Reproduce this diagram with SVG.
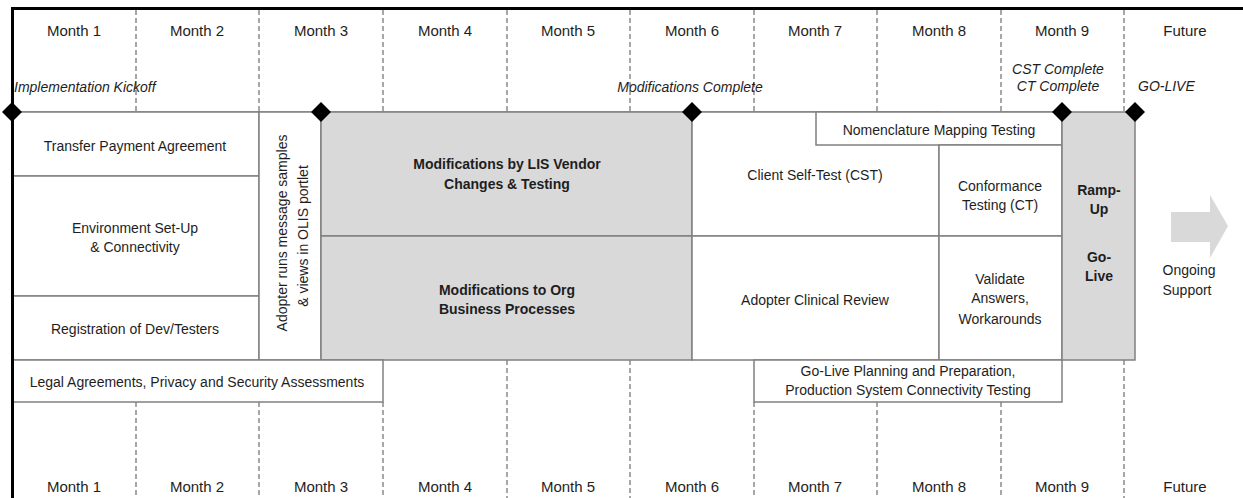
<svg xmlns="http://www.w3.org/2000/svg" width="1243" height="498" viewBox="0 0 1243 498">
<defs>
<style>
.bg{fill:#ffffff}
.box{fill:#ffffff;stroke:#808080;stroke-width:1.5}
.gbox{fill:#d9d9d9;stroke:#808080;stroke-width:1.5}
.grid{stroke:#8a8a8a;stroke-width:1.5;stroke-dasharray:5 3;fill:none}
.line{stroke:#808080;stroke-width:1.5;fill:none}
.frame{stroke:#000000;stroke-width:3;fill:none}
.ms{fill:#000000}
text{font-family:"Liberation Sans",Arial,sans-serif;fill:#1e1e1e}
.mon{font-size:15px;text-anchor:middle}
.t{font-size:14px;text-anchor:middle}
.b{font-size:14px;font-weight:bold;text-anchor:middle}
.it{font-size:14px;font-style:italic}
</style>
</defs>
<rect class="bg" x="0" y="0" width="1243" height="498"/>

<g id="grid">
<line class="grid" x1="136" y1="10" x2="136" y2="112"/>
<line class="grid" x1="259" y1="10" x2="259" y2="112"/>
<line class="grid" x1="383" y1="10" x2="383" y2="112"/>
<line class="grid" x1="507" y1="10" x2="507" y2="112"/>
<line class="grid" x1="630" y1="10" x2="630" y2="112"/>
<line class="grid" x1="754" y1="10" x2="754" y2="112"/>
<line class="grid" x1="877" y1="10" x2="877" y2="112"/>
<line class="grid" x1="1001" y1="10" x2="1001" y2="112"/>
<line class="grid" x1="1124" y1="10" x2="1124" y2="112"/>
<line class="grid" x1="136" y1="402" x2="136" y2="498"/>
<line class="grid" x1="259" y1="402" x2="259" y2="498"/>
<line class="grid" x1="383" y1="402" x2="383" y2="498"/>
<line class="grid" x1="507" y1="360" x2="507" y2="498"/>
<line class="grid" x1="630" y1="360" x2="630" y2="498"/>
<line class="grid" x1="754" y1="402" x2="754" y2="498"/>
<line class="grid" x1="877" y1="402" x2="877" y2="498"/>
<line class="grid" x1="1001" y1="402" x2="1001" y2="498"/>
<line class="grid" x1="1124" y1="360" x2="1124" y2="498"/>
</g>

<g id="months-top">
<text class="mon" x="74" y="36">Month 1</text>
<text class="mon" x="197" y="36">Month 2</text>
<text class="mon" x="321" y="36">Month 3</text>
<text class="mon" x="445" y="36">Month 4</text>
<text class="mon" x="568" y="36">Month 5</text>
<text class="mon" x="692" y="36">Month 6</text>
<text class="mon" x="815" y="36">Month 7</text>
<text class="mon" x="939" y="36">Month 8</text>
<text class="mon" x="1062" y="36">Month 9</text>
<text class="mon" x="1185" y="36">Future</text>
</g>
<g id="months-bottom">
<text class="mon" x="74" y="492">Month 1</text>
<text class="mon" x="197" y="492">Month 2</text>
<text class="mon" x="321" y="492">Month 3</text>
<text class="mon" x="445" y="492">Month 4</text>
<text class="mon" x="568" y="492">Month 5</text>
<text class="mon" x="692" y="492">Month 6</text>
<text class="mon" x="815" y="492">Month 7</text>
<text class="mon" x="939" y="492">Month 8</text>
<text class="mon" x="1062" y="492">Month 9</text>
<text class="mon" x="1185" y="492">Future</text>
</g>

<g id="milestone-labels">
<text class="it" x="14" y="92">Implementation Kickoff</text>
<text class="it" x="690" y="92" text-anchor="middle">Modifications Complete</text>
<text class="it" x="1058" y="74" text-anchor="middle">CST Complete</text>
<text class="it" x="1058" y="91" text-anchor="middle">CT Complete</text>
<text class="it" x="1138" y="91">GO-LIVE</text>
</g>

<g id="connectors">
<line class="line" x1="12" y1="112" x2="1062" y2="112"/>
</g>

<g id="transfer-payment">
<rect class="box" x="12" y="112" width="247" height="64"/>
<text class="t" x="135" y="151">Transfer Payment Agreement</text>
</g>
<g id="environment">
<rect class="box" x="12" y="176" width="247" height="120"/>
<text class="t" x="135" y="233">Environment Set-Up</text>
<text class="t" x="135" y="252">&amp; Connectivity</text>
</g>
<g id="registration">
<rect class="box" x="12" y="296" width="247" height="64"/>
<text class="t" x="135" y="334">Registration of Dev/Testers</text>
</g>
<g id="adopter-runs">
<rect class="box" x="259" y="112" width="62" height="248"/>
<text class="t" transform="translate(287,233) rotate(-90)">Adopter runs message samples</text>
<text class="t" transform="translate(308,236) rotate(-90)">&amp; views in OLIS portlet</text>
</g>
<g id="mod-lis">
<rect class="gbox" x="321" y="112" width="371" height="124"/>
<text class="b" x="507" y="169">Modifications by LIS Vendor</text>
<text class="b" x="507" y="189">Changes &amp; Testing</text>
</g>
<g id="mod-org">
<rect class="gbox" x="321" y="236" width="371" height="124"/>
<text class="b" x="507" y="295">Modifications to Org</text>
<text class="b" x="507" y="314">Business Processes</text>
</g>
<g id="legal">
<rect class="box" x="12" y="360" width="371" height="42"/>
<text class="t" x="197" y="387">Legal Agreements, Privacy and Security Assessments</text>
</g>
<g id="cst">
<rect class="box" x="692" y="112" width="247" height="124"/>
<text class="t" x="815" y="180">Client Self-Test (CST)</text>
</g>
<g id="nomenclature">
<rect class="box" x="816" y="112" width="246" height="33"/>
<text class="t" x="939" y="135">Nomenclature Mapping Testing</text>
</g>
<g id="ct">
<rect class="box" x="939" y="145" width="123" height="91"/>
<text class="t" x="1000" y="191">Conformance</text>
<text class="t" x="1000" y="210">Testing (CT)</text>
</g>
<g id="clinical-review">
<rect class="box" x="692" y="236" width="247" height="124"/>
<text class="t" x="815" y="305">Adopter Clinical Review</text>
</g>
<g id="validate">
<rect class="box" x="939" y="236" width="123" height="124"/>
<text class="t" x="1000" y="284">Validate</text>
<text class="t" x="1000" y="303">Answers,</text>
<text class="t" x="1000" y="324">Workarounds</text>
</g>
<g id="golive-planning">
<rect class="box" x="754" y="360" width="308" height="42"/>
<text class="t" x="908" y="376">Go-Live Planning and Preparation,</text>
<text class="t" x="908" y="395">Production System Connectivity Testing</text>
</g>
<g id="ramp-up">
<rect class="gbox" x="1062" y="112" width="73" height="248"/>
<text class="b" x="1099" y="195">Ramp-</text>
<text class="b" x="1099" y="214">Up</text>
<text class="b" x="1099" y="262">Go-</text>
<text class="b" x="1099" y="281">Live</text>
</g>
<g id="ongoing-support">
<polygon points="1171,212 1210,212 1210,195 1228,226 1210,258 1210,242 1171,242" fill="#d9d9d9"/>
<text class="t" x="1189" y="275">Ongoing</text>
<text class="t" x="1187" y="295">Support</text>
</g>

<g id="frame">
<line class="frame" x1="12.5" y1="8.5" x2="1243" y2="8.5"/>
<line class="frame" x1="12.5" y1="7" x2="12.5" y2="498"/>
</g>

<g id="milestones">
<polygon class="ms" points="12,102 22,112 12,122 2,112"/>
<polygon class="ms" points="321,102 331,112 321,122 311,112"/>
<polygon class="ms" points="692,102 702,112 692,122 682,112"/>
<polygon class="ms" points="1062,102 1072,112 1062,122 1052,112"/>
<polygon class="ms" points="1135,102 1145,112 1135,122 1125,112"/>
</g>
</svg>
